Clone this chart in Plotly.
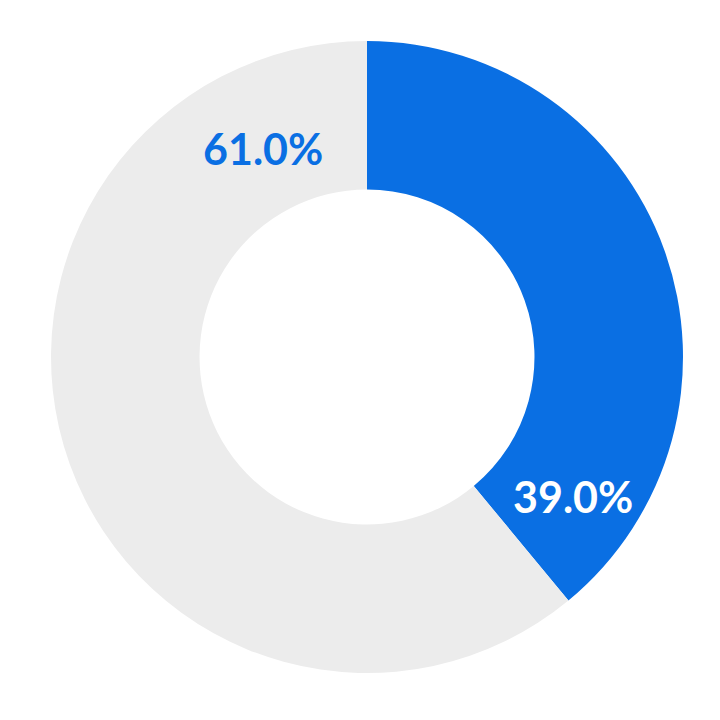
import plotly.graph_objects as go

# slice data
labels = ["Blue", "Grey"]
values = [39.0, 61.0]
colors = ["#0a6fe3", "#ececec"]
text_labels = ["39.0%", "61.0%"]

fig = go.Figure(data=[go.Pie(
    labels=labels,
    values=values,
    hole=0.53,
    sort=False,
    direction="clockwise",
    rotation=0,
    marker=dict(colors=colors, line=dict(width=0)),
    textinfo="none",
    hoverinfo="label+percent",
    showlegend=False,
    domain=dict(x=[0.0611, 0.9588], y=[0.0554, 0.9531]),
)])

# labels sit at hand-picked spots rather than slice middles
fig.add_annotation(x=0.8026, y=0.3068, xref="paper", yref="paper",
                   xanchor="center", yanchor="middle",
                   text="<b>" + text_labels[0] + "</b>", showarrow=False,
                   font=dict(family="Lato", size=43, color="#ffffff"))
fig.add_annotation(x=0.3622, y=0.8011, xref="paper", yref="paper",
                   xanchor="center", yanchor="middle",
                   text="<b>" + text_labels[1] + "</b>", showarrow=False,
                   font=dict(family="Lato", size=43, color="#0a6fe3"))

fig.update_layout(width=704, height=704,
                  margin=dict(l=0, r=0, t=0, b=0),
                  paper_bgcolor="#ffffff", plot_bgcolor="#ffffff")
fig.write_html("out.html")
